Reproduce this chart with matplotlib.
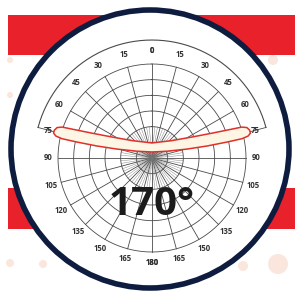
import numpy as np
import matplotlib
matplotlib.use("Agg")
import matplotlib.pyplot as plt
from matplotlib.patches import Rectangle, Circle

# beam pattern outline, right half (deg from top, radius as fraction of outer ring)
lobe_theta = [0, 48.7, 62.3, 67.5, 69.6, 71.0, 72.2, 74.1, 75.8, 77.1,
              77.9, 78.0, 77.7, 75.7, 65.6, 0]
lobe_r = [0.16, 0.28, 0.48, 0.69, 0.85, 1.01, 1.06, 1.08, 1.08, 1.05,
          0.98, 0.816, 0.60, 0.384, 0.175, 0.064]

upper_labels = [0, 15, 30, 45, 60, 75]
lower_labels = [90, 105, 120, 135, 150, 165, 180]
n_rings = 6
beam_text = "170°"

# decorative pale dots (px from top-left) and their radii
dot_x = [273, 10, 10, 278, 243, 10, 43]
dot_y = [60, 60, 95, 264, 266, 263, 264]
dot_rad = [5, 3, 3, 10, 5, 4, 4]

W, H = 295, 292
fig = plt.figure(figsize=(W / 100, H / 100), dpi=100)
fig.patch.set_facecolor("white")

bg = fig.add_axes([0, 0, 1, 1])
bg.set_xlim(0, W)
bg.set_ylim(H, 0)
bg.axis("off")

red = "#e8212b"
bg.add_patch(Rectangle((8, 15), W - 8, 40, color=red, lw=0))
bg.add_patch(Rectangle((8, 188), W - 8, 41, color=red, lw=0))
for x, y, r in zip(dot_x, dot_y, dot_rad):
    bg.add_patch(Circle((x, y), r, color="#fbe6dd", lw=0))
bg.add_patch(Circle((150, 149), 139, facecolor="white", edgecolor="#0e1c40", lw=4.0))

# polar chart, center at (152,158) px, outer ring radius 94 px
R = 94
rmax = 1.3
cx, cy = 152, 158
half = R * rmax
ax = fig.add_axes([(cx - half) / W, (H - cy - half) / H, 2 * half / W, 2 * half / H],
                  projection="polar")
ax.set_theta_zero_location("N")
ax.set_theta_direction(-1)
ax.set_ylim(0, rmax)
ax.axis("off")
ax.patch.set_alpha(0)

gc = "#4a4a4a"
lw = 0.6
full = np.linspace(0, 2 * np.pi, 361)
for k in range(1, n_rings + 1):
    ax.plot(full, np.full_like(full, k / n_rings), color=gc, lw=lw)
for a in range(0, 360, 15):
    rr = 1.255 if a in (75, 285) else 1.0
    ax.plot([np.radians(a)] * 2, [0, rr], color=gc, lw=lw)
for a in range(0, 360, 5):
    if a % 15:
        ax.plot([np.radians(a)] * 2, [0, 2 / n_rings], color="#777777", lw=0.3)
arc = np.radians(np.linspace(-75, 75, 151))
ax.plot(arc, np.full_like(arc, 1.255), color=gc, lw=0.8)

lab_kw = dict(fontsize=5.6, fontweight="bold", color="#333333",
              family="Open Sans", ha="center", va="center")
for a in upper_labels:
    for s in {1, -1}:
        ax.text(np.radians(s * a), 1.14, str(a), **lab_kw)
for a in lower_labels:
    for s in {1, -1}:
        ax.text(np.radians(s * a), 1.11, str(a), **lab_kw)

th = lobe_theta + [-t for t in lobe_theta[::-1][1:]]
rr = lobe_r + lobe_r[::-1][1:]
ax.fill(np.radians(th), rr, facecolor="#fdf6e4", edgecolor="#e0302a", lw=1.1, zorder=3)

ax.text(np.pi, 0.49, beam_text, fontsize=29, fontweight="bold",
        family="Open Sans", color="#1b1b1b", ha="center", va="center", zorder=4)

fig.savefig("out.png", dpi=100)
